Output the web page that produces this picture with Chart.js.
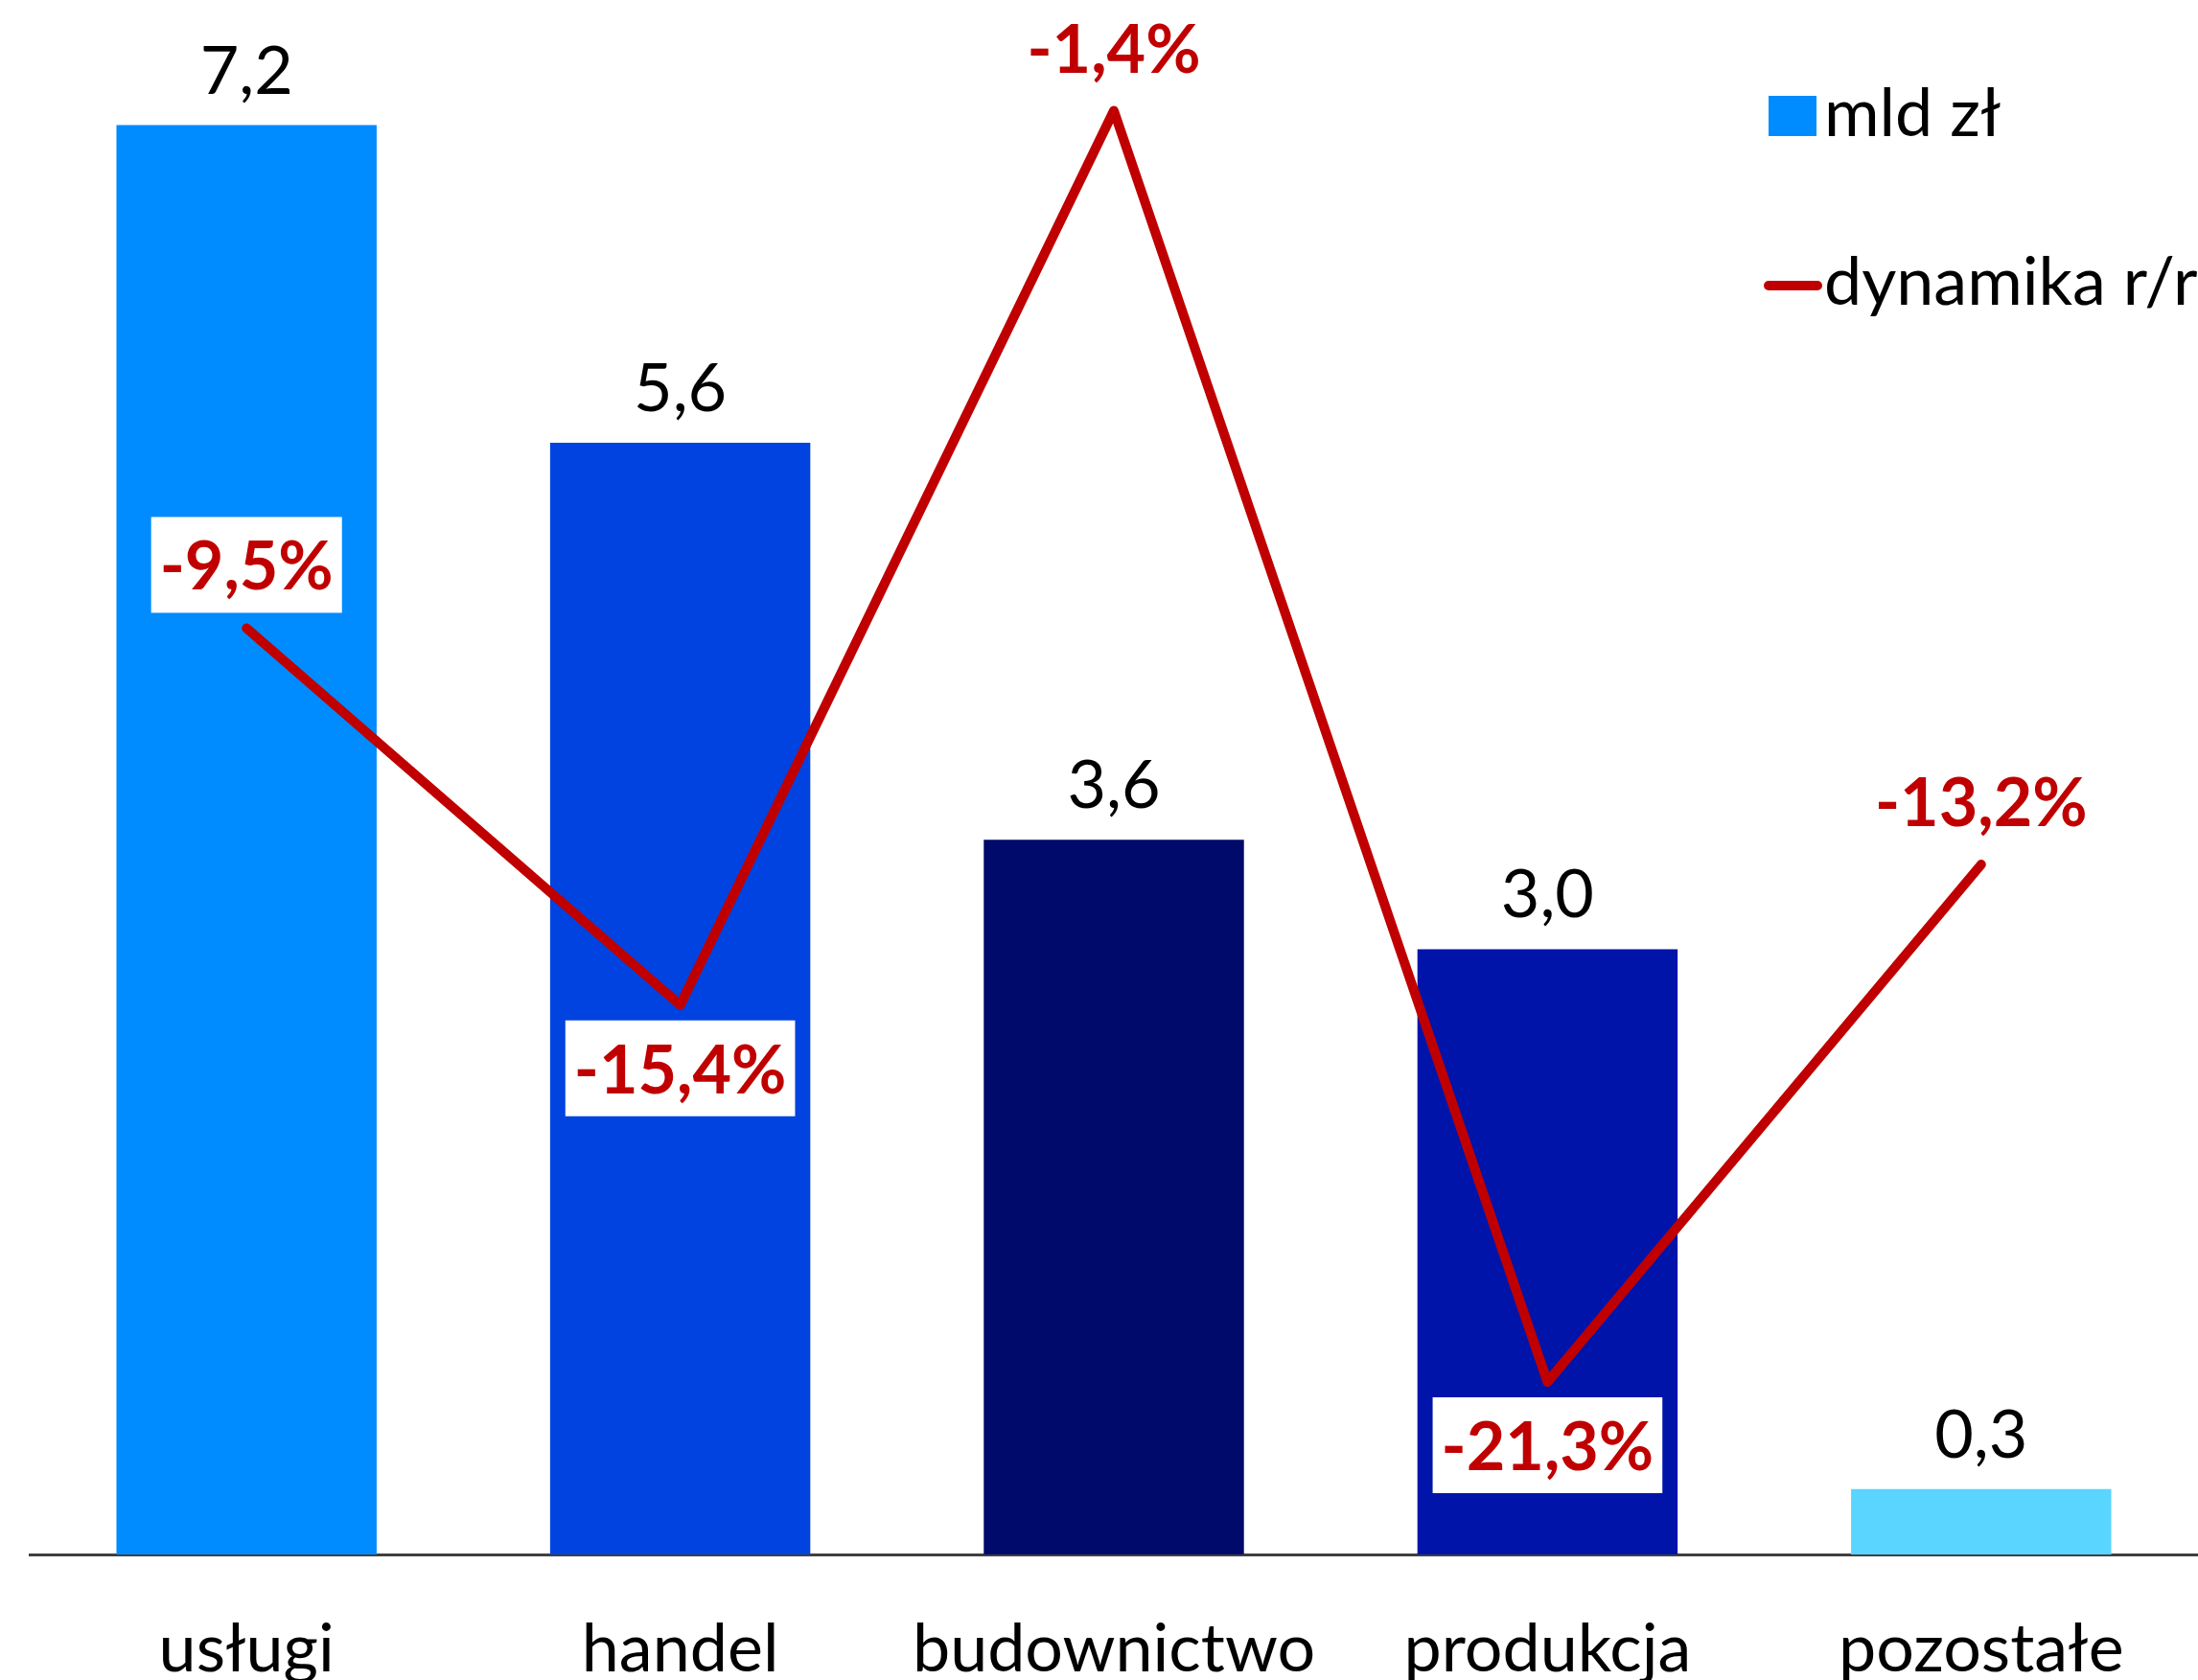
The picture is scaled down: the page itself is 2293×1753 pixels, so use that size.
<!DOCTYPE html>
<html lang="pl">
<head>
<meta charset="utf-8">
<title>mld zł i dynamika r/r</title>
<script src="https://cdn.jsdelivr.net/npm/chart.js@4.4.1/dist/chart.umd.min.js"></script>
<style>
  html, body { margin: 0; padding: 0; background: #fff; overflow: hidden; }
  canvas { display: block; }
</style>
</head>
<body>
<canvas id="chart" width="2293" height="1753"></canvas>
<script>
// data
const categories = ['usługi', 'handel', 'budownictwo', 'produkcja', 'pozostałe'];
const valuesMld = [7.2, 5.6, 3.6, 3.049, 0.33];
const dynamics = [-9.5, -15.4, -1.4, -21.3, -13.2];
const legendLabels = ['mld zł', 'dynamika r/r'];

// styles
const barColors = ['#008bff', '#0043e0', '#000a6a', '#0014aa', '#5ad5ff'];
const dynLabelSide = ['above', 'below', 'above', 'below', 'above'];
const RED = '#c00000';
const FONT = 'Lato, "Open Sans", sans-serif';

function fmt(v) {
    return v.toFixed(1).replace('.', ',');
}

// value labels + legend, drawn by hand (no datalabels plugin offline)
const labelsPlugin = {
    id: 'valueLabels',
    afterDatasetsDraw(chart) {
        const ctx = chart.ctx;
        ctx.save();

        // bar values
        const barMeta = chart.getDatasetMeta(1);
        ctx.font = '70px ' + FONT;
        ctx.fillStyle = '#000';
        ctx.textAlign = 'center';
        ctx.textBaseline = 'alphabetic';
        barMeta.data.forEach((bar, i) => {
            ctx.fillText(fmt(valuesMld[i]), bar.x, bar.y - 33);
        });

        // dynamics labels in white boxes
        const lineMeta = chart.getDatasetMeta(0);
        ctx.font = 'bold 70px ' + FONT;
        lineMeta.data.forEach((pt, i) => {
            const text = fmt(dynamics[i]) + '%';
            const w = ctx.measureText(text).width + 18;
            const h = 100;
            const cy = dynLabelSide[i] === 'above' ? pt.y - 16 - h / 2 : pt.y + 16 + h / 2;
            ctx.fillStyle = '#fff';
            ctx.fillRect(pt.x - w / 2, cy - h / 2, w, h);
            ctx.fillStyle = RED;
            ctx.fillText(text, pt.x, cy + 26);
        });

        ctx.restore();
    },
    afterDraw(chart) {
        const ctx = chart.ctx;
        ctx.save();
        ctx.font = '70px ' + FONT;
        ctx.fillStyle = '#000';
        ctx.textAlign = 'left';
        ctx.textBaseline = 'alphabetic';

        // bars entry
        ctx.fillStyle = barColors[0];
        ctx.fillRect(1845, 100, 50, 42);
        ctx.fillStyle = '#000';
        ctx.fillText(legendLabels[0], 1903, 142);

        // line entry
        ctx.strokeStyle = RED;
        ctx.lineWidth = 10;
        ctx.lineCap = 'round';
        ctx.beginPath();
        ctx.moveTo(1845, 298);
        ctx.lineTo(1896, 298);
        ctx.stroke();
        ctx.fillText(legendLabels[1], 1903, 318);

        ctx.restore();
    }
};

new Chart(document.getElementById('chart'), {
    data: {
        labels: categories,
        datasets: [
            {
                type: 'line',
                label: legendLabels[1],
                data: dynamics,
                yAxisID: 'y2',
                borderColor: RED,
                backgroundColor: RED,
                borderWidth: 10,
                borderCapStyle: 'round',
                borderJoinStyle: 'round',
                pointRadius: 0,
                tension: 0,
                fill: false,
                order: 0
            },
            {
                type: 'bar',
                label: legendLabels[0],
                data: valuesMld,
                yAxisID: 'y',
                backgroundColor: barColors,
                borderWidth: 0,
                categoryPercentage: 1,
                barPercentage: 0.6,
                order: 1
            }
        ]
    },
    options: {
        responsive: false,
        animation: false,
        layout: {
            padding: { left: 31, right: 0, top: 0, bottom: 0 }
        },
        plugins: {
            legend: { display: false },
            tooltip: { enabled: false }
        },
        scales: {
            x: {
                grid: { display: false, drawTicks: false },
                border: { display: true, color: '#404040', width: 3 },
                ticks: {
                    color: '#000',
                    font: { family: FONT, size: 70 },
                    padding: 57,
                    maxRotation: 0,
                    autoSkip: false
                },
                afterFit(scale) {
                    scale.height = 131;
                }
            },
            y: {
                display: false,
                min: 0,
                max: 7.83
            },
            y2: {
                display: false,
                position: 'right',
                min: -24,
                max: 0.333
            }
        }
    },
    plugins: [labelsPlugin]
});
</script>
</body>
</html>
